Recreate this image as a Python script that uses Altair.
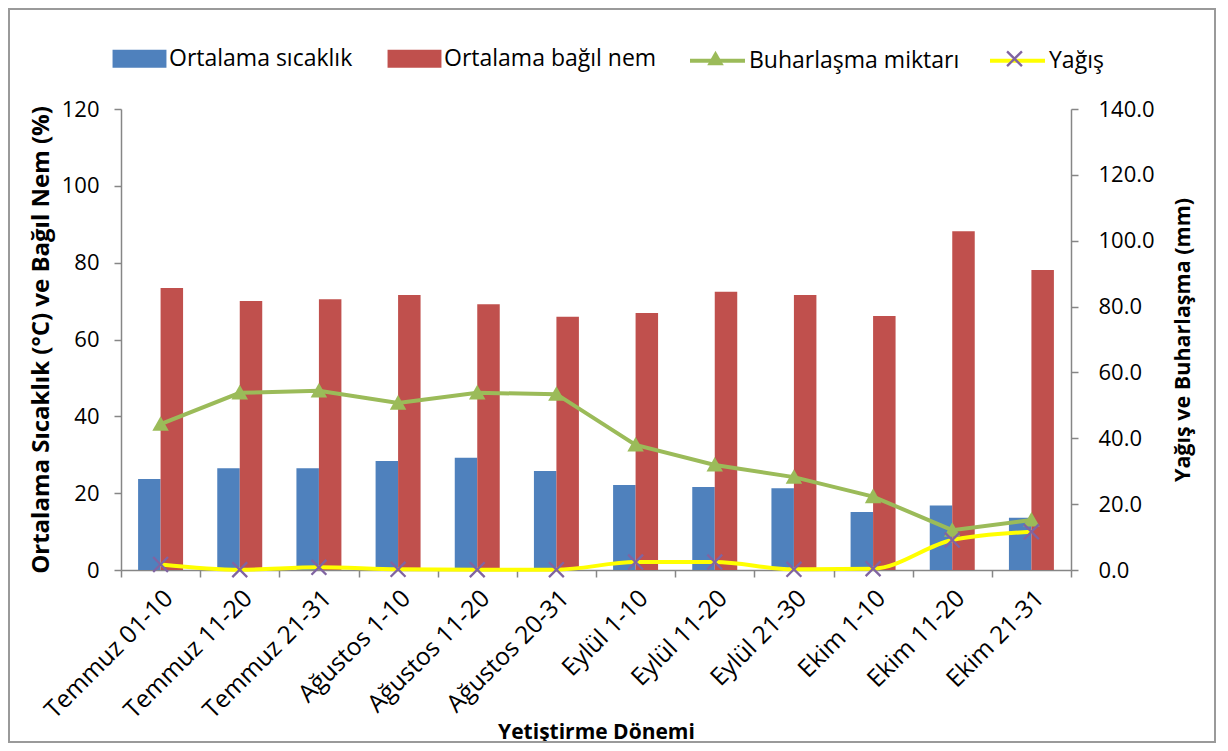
import altair as alt
import pandas as pd

periods = ["Temmuz 01-10", "Temmuz 11-20", "Temmuz 21-31", "Ağustos 1-10",
           "Ağustos 11-20", "Ağustos 20-31", "Eylül 1-10", "Eylül 11-20",
           "Eylül 21-30", "Ekim 1-10", "Ekim 11-20", "Ekim 21-31"]
temp = [23.7, 26.5, 26.5, 28.4, 29.2, 25.8, 22.1, 21.6, 21.3, 15.1, 16.8, 13.6]
hum = [73.4, 70.0, 70.5, 71.6, 69.2, 65.9, 66.9, 72.4, 71.6, 66.1, 88.2, 78.1]
evap = [44.3, 53.8, 54.4, 50.7, 53.8, 53.4, 38.0, 31.9, 28.2, 22.3, 12.1, 15.2]
precip = [1.7, 0.1, 0.8, 0.2, 0.1, 0.1, 2.4, 2.4, 0.2, 0.4, 9.1, 11.6]

bar_series = ["Ortalama sıcaklık", "Ortalama bağıl nem"]
line_series = ["Buharlaşma miktarı", "Yağış"]
left_ticks = [0, 20, 40, 60, 80, 100, 120]
right_ticks = [0, 20, 40, 60, 80, 100, 120, 140]

BLUE, RED, GREEN, YELLOW, PURPLE = "#4F81BD", "#C0504D", "#9BBB59", "#FFFF00", "#8064A2"
AX = "#868686"
FONT = "Open Sans"
ZW = "\u200b"  # zero-width suffix so the marker legend stays separate from the line legend
marker_series = [s + ZW for s in line_series]

bars_df = pd.DataFrame({
    "period": periods * 2,
    "series": [bar_series[0]] * len(periods) + [bar_series[1]] * len(periods),
    "value": temp + hum,
})
evap_df = pd.DataFrame({"period": periods, "series": line_series[0], "value": evap})
prec_df = pd.DataFrame({"period": periods, "series": line_series[1], "value": precip})
lines_df = pd.concat([evap_df, prec_df], ignore_index=True)
lines_df["marker"] = lines_df["series"] + ZW

RECT_PATH = "M-0.98,-0.33H0.98V0.33H-0.98Z"
LINE_PATH = "M-1,0H1"
TRI_PATH = "M-1,0M1,0M0,-0.29L0.3,0.24L-0.3,0.24Z"
a, d = 0.27, 0.03
X_PATH = (f"M-1,0M1,0M{-a+d},{-a-d}L{a+d},{a-d}L{a-d},{a+d}L{-a-d},{-a+d}Z"
          f"M{-a+d},{a+d}L{-a-d},{a-d}L{a-d},{-a-d}L{a+d},{-a+d}Z")
SYM = 3025

legend_common = dict(
    orient="none", direction="horizontal", title=None, padding=0,
    labelFont=FONT, labelFontSize=23, labelColor="black", labelLimit=500,
    labelOffset=2, symbolSize=SYM,
)

x_axis = alt.Axis(
    title="Yetiştirme Dönemi", labelAngle=-45, labelAlign="right", labelBaseline="top",
    tickBand="extent", labelFont=FONT, labelFontSize=24.5, labelColor="black",
    labelPadding=9, tickSize=7, tickColor=AX, domainColor=AX, domainWidth=1.5, tickWidth=1.5,
    titleFont=FONT, titleFontSize=21, titleFontWeight="bold", titleColor="black",
    titleBaseline="alphabetic", titleY=168, labelLimit=400,
)
x_bar = alt.X("period:N", sort=periods, scale=alt.Scale(paddingInner=0, paddingOuter=0), axis=x_axis)
x_pt = alt.X("period:N", sort=periods, bandPosition=0.5, axis=x_axis)

border = alt.Chart(pd.DataFrame({"a": [0]})).mark_rect(
    fill="transparent", stroke="#9A9A9A", strokeWidth=2, clip=False
).encode(x=alt.value(-112), x2=alt.value(1094), y=alt.value(-100), y2=alt.value(633))

bars = alt.Chart(bars_df).mark_bar().encode(
    x=x_bar,
    xOffset=alt.XOffset("series:N", sort=bar_series,
                        scale=alt.Scale(paddingInner=0, paddingOuter=0.76)),
    y=alt.Y("value:Q", scale=alt.Scale(domain=[0, 120], nice=False),
            axis=alt.Axis(orient="left", values=left_ticks, grid=False,
                          title="Ortalama Sıcaklık (°C) ve Bağıl Nem (%)",
                          labelFont=FONT, labelFontSize=22, labelColor="black",
                          labelPadding=15, tickSize=7, tickColor=AX, domainColor=AX,
                          domainWidth=1.5, tickWidth=1.5,
                          titleFont=FONT, titleFontSize=24, titleFontWeight="bold",
                          titleColor="black", titleBaseline="middle", titleX=-80)),
    color=alt.Color("series:N", scale=alt.Scale(domain=bar_series, range=[BLUE, RED]),
                    legend=alt.Legend(legendX=-9, legendY=-78, symbolType=RECT_PATH,
                                      symbolStrokeWidth=0, columnPadding=34, **legend_common)),
)

y_right = alt.Y("value:Q", scale=alt.Scale(domain=[0, 140], nice=False),
                axis=alt.Axis(orient="right", values=right_ticks, format=".1f", grid=False,
                              title="Yağış ve Buharlaşma (mm)",
                              labelFont=FONT, labelFontSize=22, labelColor="black",
                              labelPadding=20, tickSize=7, tickColor=AX, domainColor=AX,
                              domainWidth=1.5, tickWidth=1.5,
                              titleFont=FONT, titleFontSize=21.5, titleFontWeight="bold",
                              titleColor="black", titleBaseline="middle", titleAngle=270,
                              titleX=112))

stroke_enc = alt.Stroke("series:N", scale=alt.Scale(domain=line_series, range=[GREEN, YELLOW]),
                        legend=alt.Legend(legendX=567, legendY=-78, symbolType=LINE_PATH,
                                          symbolStrokeWidth=4, columnPadding=22,
                                          **legend_common))

line_evap = alt.Chart(evap_df).mark_line(strokeWidth=4).encode(x=x_pt, y=y_right, stroke=stroke_enc)
line_prec = alt.Chart(prec_df).mark_line(strokeWidth=4, interpolate="monotone").encode(
    x=x_pt, y=y_right, stroke=stroke_enc)

m0 = marker_series[0]
fill_expr = f"(datum.marker || datum.value) === '{m0}' ? '{GREEN}' : '{PURPLE}'"
points = alt.Chart(lines_df).mark_point(
    size=SYM, strokeWidth=0, opacity=1,
    fill=alt.ExprRef(expr=fill_expr), stroke="transparent",
).encode(
    x=x_pt, y=y_right,
    shape=alt.Shape("marker:N", scale=alt.Scale(domain=marker_series, range=[TRI_PATH, X_PATH]),
                    legend=alt.Legend(legendX=567, legendY=-78, labelExpr="''",
                                      columnPadding=242,
                                      symbolStrokeWidth=0,
                                      symbolFillColor=alt.ExprRef(expr=fill_expr),
                                      symbolStrokeColor="transparent",
                                      zindex=1,
                                      **legend_common)),
)

right = alt.layer(line_evap, line_prec, points)

chart = alt.layer(border, bars, right).resolve_scale(y="independent").properties(
    width=950, height=461,
    padding={"left": 113, "top": 101, "right": 149, "bottom": 173},
    autosize=alt.AutoSizeParams(type="none"),
    background="white",
).configure_view(stroke=None)

chart.save("out.html", embed_options={"renderer": "svg", "actions": False})
